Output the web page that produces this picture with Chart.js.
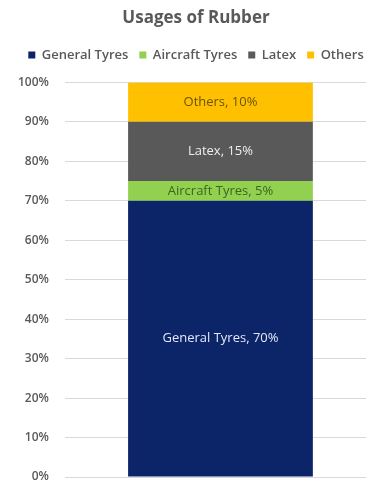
<!DOCTYPE html>
<html lang="en">
<head>
  <meta charset="UTF-8">
  <title>Usages of Rubber</title>
  <script src="https://cdn.jsdelivr.net/npm/chart.js"></script>
  <style>
    body { margin: 0; overflow: hidden; background: #fff; }
    #wrap { width: 400px; height: 485px; }
  </style>
</head>
<body>
  <div id="wrap"><canvas id="rubberChart" width="400" height="485"></canvas></div>

  <script>
    // chart data
    const categories = [''];
    const seriesNames = ['General Tyres', 'Aircraft Tyres', 'Latex', 'Others'];
    const seriesValues = [[70], [5], [15], [10]];
    const seriesColors = ['#0c2468', '#92d050', '#595959', '#ffc000'];
    const labelColors = ['#e4e8f8', '#3b6620', '#eeeeee', '#6b5400'];
    const yTicks = [0, 10, 20, 30, 40, 50, 60, 70, 80, 90, 100];

    const fontFamily = '"Open Sans", "Noto Sans", sans-serif';

    // draws "Name, value%" in the middle of each stacked piece
    const segmentLabels = {
      id: 'segmentLabels',
      afterDatasetsDraw(chart) {
        const ctx = chart.ctx;
        ctx.save();
        ctx.font = '13px ' + fontFamily;
        ctx.textAlign = 'center';
        ctx.textBaseline = 'middle';
        chart.data.datasets.forEach((ds, i) => {
          const meta = chart.getDatasetMeta(i);
          meta.data.forEach((bar, j) => {
            const midY = (bar.y + bar.base) / 2;
            ctx.fillStyle = labelColors[i];
            ctx.fillText(ds.label + ', ' + ds.data[j] + '%', bar.x, midY);
          });
        });
        ctx.restore();
      }
    };

    // extra room under the legend
    const legendGap = {
      id: 'legendGap',
      beforeInit(chart) {
        const fit = chart.legend.fit;
        chart.legend.fit = function () {
          fit.bind(chart.legend)();
          this.height += 11;
        };
      }
    };

    const ctx = document.getElementById('rubberChart').getContext('2d');
    new Chart(ctx, {
      type: 'bar',
      data: {
        labels: categories,
        datasets: seriesNames.map((name, i) => ({
          label: name,
          data: seriesValues[i],
          backgroundColor: seriesColors[i],
          borderWidth: 0,
          barPercentage: 0.594,
          categoryPercentage: 1.0
        }))
      },
      options: {
        responsive: false,
        animation: false,
        layout: { padding: { left: 16, right: 24, top: 0, bottom: 0 } },
        plugins: {
          title: {
            display: true,
            text: 'Usages of Rubber',
            color: '#595959',
            font: { family: fontFamily, size: 17, weight: 'bold' },
            padding: { top: 8, bottom: 9 }
          },
          legend: {
            position: 'top',
            labels: {
              boxWidth: 7,
              boxHeight: 7,
              color: '#595959',
              font: { family: fontFamily, size: 13, weight: '600' },
              padding: 11
            }
          },
          tooltip: { enabled: false }
        },
        scales: {
          x: {
            stacked: true,
            display: false
          },
          y: {
            stacked: true,
            min: 0,
            max: 100,
            afterBuildTicks: axis => { axis.ticks = yTicks.map(v => ({ value: v })); },
            ticks: {
              color: '#595959',
              font: { family: fontFamily, size: 12, weight: '600', lineHeight: 1 },
              padding: 2,
              callback: v => v + '%'
            },
            grid: { color: '#d9d9d9', tickLength: 14, tickColor: 'transparent' },
            border: { display: false }
          }
        }
      },
      plugins: [segmentLabels, legendGap]
    });
  </script>
</body>
</html>
